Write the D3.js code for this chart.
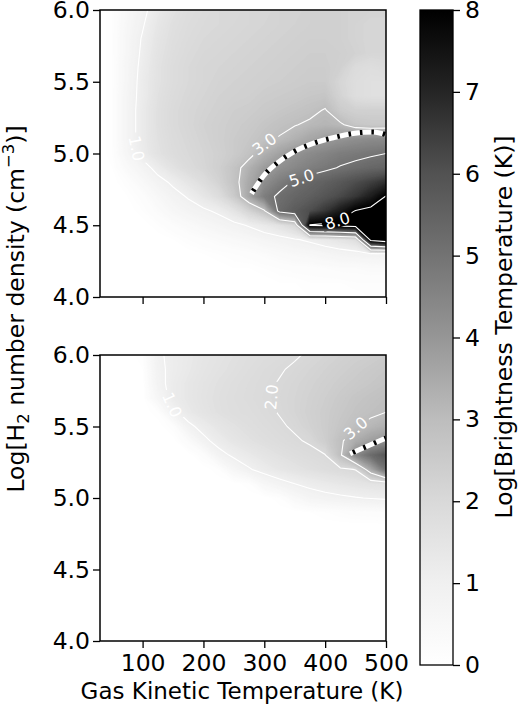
<!DOCTYPE html>
<html>
<head>
<meta charset="utf-8">
<script src="https://cdn.jsdelivr.net/npm/d3@7"></script>
<style>
  body { margin: 0; background: #fff; }
  svg text { font-family: "DejaVu Sans", sans-serif; }
</style>
</head>
<body>
<svg id="chart" width="520" height="713"></svg>
<script>
// grid of the model: columns are gas temperatures, rows are log densities (top row = 6.0)
const temps = [30, 50, 75, 100, 125, 150, 175, 200, 225, 250, 275, 300, 325, 350, 375, 400, 425, 450, 475, 500];
const densities = [6.0, 5.9, 5.8, 5.7, 5.6, 5.5, 5.4, 5.3, 5.2, 5.1, 5.0, 4.9, 4.8, 4.7, 4.6, 4.5, 4.4, 4.3, 4.2, 4.1, 4.0];

// log brightness temperature, upper panel
const topValues = [
  [0, 0.1, 0.5, 0.85, 1.3, 1.6, 1.8, 1.9, 2.0, 2.0, 2.1, 2.1, 2.2, 2.2, 2.3, 2.3, 2.3, 2.2, 2.2, 2.2],
  [0, 0.1, 0.55, 0.95, 1.4, 1.7, 1.85, 1.95, 2.0, 2.05, 2.1, 2.15, 2.2, 2.25, 2.3, 2.3, 2.3, 2.2, 2.1, 2.1],
  [0, 0.1, 0.6, 1.05, 1.5, 1.75, 1.9, 2.0, 2.05, 2.1, 2.15, 2.2, 2.25, 2.3, 2.35, 2.35, 2.3, 2.2, 2.1, 2.1],
  [0, 0.1, 0.6, 1.1, 1.55, 1.8, 1.95, 2.05, 2.1, 2.15, 2.2, 2.25, 2.3, 2.35, 2.4, 2.4, 2.35, 2.25, 2.1, 2.1],
  [0, 0.1, 0.65, 1.15, 1.6, 1.85, 2.0, 2.1, 2.15, 2.2, 2.25, 2.3, 2.35, 2.4, 2.45, 2.45, 2.3, 1.9, 1.8, 1.9],
  [0, 0.1, 0.65, 1.2, 1.6, 1.85, 2.0, 2.1, 2.2, 2.25, 2.3, 2.35, 2.4, 2.45, 2.5, 2.5, 2.1, 1.8, 1.7, 1.7],
  [0, 0.1, 0.7, 1.2, 1.65, 1.9, 2.05, 2.15, 2.25, 2.3, 2.35, 2.45, 2.5, 2.55, 2.65, 2.7, 2.2, 1.8, 1.7, 1.7],
  [0, 0.1, 0.7, 1.25, 1.7, 1.95, 2.1, 2.2, 2.3, 2.4, 2.45, 2.55, 2.65, 2.75, 2.85, 3.05, 2.5, 2.3, 2.3, 2.3],
  [0, 0.1, 0.7, 1.25, 1.7, 1.95, 2.1, 2.25, 2.35, 2.45, 2.55, 2.7, 2.85, 2.97, 3.1, 3.2, 3.1, 2.7, 2.6, 2.6],
  [0, 0.1, 0.7, 1.25, 1.65, 1.9, 2.05, 2.2, 2.35, 2.5, 2.65, 2.85, 3.05, 3.3, 3.6, 3.85, 4.05, 4.2, 4.3, 4.35],
  [0, 0.1, 0.65, 1.2, 1.6, 1.85, 2.0, 2.15, 2.3, 2.5, 2.8, 3.3, 3.7, 4.05, 4.3, 4.5, 4.7, 4.8, 4.9, 5.0],
  [0, 0.05, 0.4, 0.75, 1.2, 1.6, 1.9, 2.1, 2.35, 2.75, 3.3, 3.85, 4.15, 4.4, 4.65, 4.85, 5.05, 5.2, 5.35, 5.45],
  [0, 0, 0.15, 0.45, 0.8, 1.1, 1.45, 1.8, 2.2, 2.75, 3.5, 4.2, 4.7, 5.1, 5.35, 5.55, 5.8, 6.1, 6.4, 6.8],
  [0, 0, 0.05, 0.2, 0.5, 0.8, 1.05, 1.4, 1.8, 2.5, 3.6, 4.7, 5.15, 5.4, 5.6, 5.9, 6.2, 6.6, 7.2, 8.05],
  [0, 0, 0, 0.1, 0.3, 0.55, 0.75, 0.9, 1.1, 1.5, 2.2, 2.9, 5.3, 5.7, 6.1, 6.6, 7.3, 8.05, 8.3, 8.5],
  [0, 0, 0, 0, 0.1, 0.25, 0.4, 0.55, 0.7, 0.85, 1.05, 1.3, 1.6, 2.1, 8.05, 8.2, 8.4, 8.6, 8.9, 9.2],
  [0, 0, 0, 0, 0, 0.05, 0.15, 0.25, 0.35, 0.45, 0.55, 0.7, 0.8, 0.95, 1.1, 1.3, 1.5, 1.8, 8.5, 9.2],
  [0, 0, 0, 0, 0, 0, 0, 0.05, 0.1, 0.15, 0.2, 0.3, 0.4, 0.5, 0.55, 0.65, 0.75, 0.8, 0.85, 0.9],
  [0, 0, 0, 0, 0, 0, 0, 0, 0, 0.05, 0.05, 0.1, 0.15, 0.2, 0.2, 0.25, 0.3, 0.3, 0.35, 0.35],
  [0, 0, 0, 0, 0, 0, 0, 0, 0, 0, 0, 0, 0.05, 0.05, 0.1, 0.1, 0.1, 0.15, 0.15, 0.15],
  [0, 0, 0, 0, 0, 0, 0, 0, 0, 0, 0, 0, 0, 0, 0.05, 0.05, 0.05, 0.05, 0.1, 0.1]
];

// log brightness temperature, lower panel
const bottomValues = [
  [0, 0, 0, 0.1, 0.9, 1.15, 1.3, 1.45, 1.55, 1.65, 1.75, 1.82, 1.88, 1.96, 2.05, 2.15, 2.25, 2.35, 2.4, 2.5],
  [0, 0, 0, 0.05, 0.85, 1.15, 1.32, 1.48, 1.6, 1.7, 1.8, 1.9, 1.97, 2.05, 2.15, 2.25, 2.35, 2.45, 2.55, 2.65],
  [0, 0, 0, 0, 0.8, 1.2, 1.4, 1.55, 1.67, 1.77, 1.86, 1.94, 2.02, 2.12, 2.22, 2.33, 2.45, 2.55, 2.65, 2.75],
  [0, 0, 0, 0, 0.6, 1.2, 1.4, 1.58, 1.7, 1.8, 1.88, 1.96, 2.05, 2.15, 2.27, 2.4, 2.55, 2.7, 2.8, 2.9],
  [0, 0, 0, 0, 0.1, 0.85, 1.3, 1.52, 1.68, 1.78, 1.83, 1.92, 2.02, 2.15, 2.3, 2.45, 2.62, 2.78, 2.9, 3.0],
  [0, 0, 0, 0, 0, 0.15, 0.85, 1.2, 1.45, 1.62, 1.75, 1.85, 1.95, 2.05, 2.25, 2.45, 2.7, 2.95, 3.15, 3.35],
  [0, 0, 0, 0, 0, 0, 0.3, 0.85, 1.2, 1.45, 1.62, 1.75, 1.85, 1.95, 2.05, 2.4, 2.9, 3.4, 3.8, 4.1],
  [0, 0, 0, 0, 0, 0, 0, 0.2, 0.8, 1.1, 1.3, 1.5, 1.65, 1.78, 1.88, 1.98, 2.9, 4.3, 5.2, 5.8],
  [0, 0, 0, 0, 0, 0, 0, 0, 0.1, 0.6, 0.95, 1.2, 1.4, 1.55, 1.68, 1.8, 1.9, 2.02, 3.5, 5.0],
  [0, 0, 0, 0, 0, 0, 0, 0, 0, 0, 0.1, 0.55, 0.8, 1.0, 1.15, 1.27, 1.38, 1.48, 1.55, 1.6],
  [0, 0, 0, 0, 0, 0, 0, 0, 0, 0, 0, 0, 0.1, 0.45, 0.7, 0.82, 0.9, 0.97, 1.03, 1.08],
  [0, 0, 0, 0, 0, 0, 0, 0, 0, 0, 0, 0, 0, 0, 0.05, 0.1, 0.15, 0.2, 0.22, 0.25],
  [0, 0, 0, 0, 0, 0, 0, 0, 0, 0, 0, 0, 0, 0, 0, 0, 0, 0, 0, 0],
  [0, 0, 0, 0, 0, 0, 0, 0, 0, 0, 0, 0, 0, 0, 0, 0, 0, 0, 0, 0],
  [0, 0, 0, 0, 0, 0, 0, 0, 0, 0, 0, 0, 0, 0, 0, 0, 0, 0, 0, 0],
  [0, 0, 0, 0, 0, 0, 0, 0, 0, 0, 0, 0, 0, 0, 0, 0, 0, 0, 0, 0],
  [0, 0, 0, 0, 0, 0, 0, 0, 0, 0, 0, 0, 0, 0, 0, 0, 0, 0, 0, 0],
  [0, 0, 0, 0, 0, 0, 0, 0, 0, 0, 0, 0, 0, 0, 0, 0, 0, 0, 0, 0],
  [0, 0, 0, 0, 0, 0, 0, 0, 0, 0, 0, 0, 0, 0, 0, 0, 0, 0, 0, 0],
  [0, 0, 0, 0, 0, 0, 0, 0, 0, 0, 0, 0, 0, 0, 0, 0, 0, 0, 0, 0],
  [0, 0, 0, 0, 0, 0, 0, 0, 0, 0, 0, 0, 0, 0, 0, 0, 0, 0, 0, 0]
];

const topLevels = [1, 3, 5, 8];
const bottomLevels = [1, 2, 3];

// observed brightness, drawn as the dashed curve (temperature, log density)
const obsTopT = [279, 298, 320, 348, 380, 413, 446, 479, 500];
const obsTopN = [4.72, 4.84, 4.93, 5.01, 5.07, 5.11, 5.14, 5.15, 5.13];
const obsBottomT = [441, 468, 500];
const obsBottomN = [5.31, 5.36, 5.42];

// where clabel put the numbers (temperature, log density)
const topLabels = [
  { level: 1, t: 101, n: 5.04 },
  { level: 3, t: 298, n: 5.08 },
  { level: 5, t: 362, n: 4.82 },
  { level: 8, t: 416, n: 4.61 }
];
const bottomLabels = [
  { level: 1, t: 148, n: 5.65 },
  { level: 2, t: 309, n: 5.71 },
  { level: 3, t: 449, n: 5.5 }
];

const xTicks = [100, 200, 300, 400, 500];
const yTicks = [4.0, 4.5, 5.0, 5.5, 6.0];
const cbarTicks = [0, 1, 2, 3, 4, 5, 6, 7, 8];

const svg = d3.select('#chart');
const defs = svg.append('defs');
const tickFont = 23.5;
const labelFont = 23.5;

const x = d3.scaleLinear().domain([30, 500]).range([100, 386]);
const greys = d3.scaleLinear().domain(d3.range(9)).range(d3.schemeGreys[9]).clamp(true);
const bandStep = 0.05;
const bandLevels = d3.range(bandStep, 8 + 1e-6, bandStep);
const fmt = d3.format('.1f');

const panels = [
  { id: 'top', values: topValues, levels: topLevels, labels: topLabels,
    obsT: obsTopT, obsN: obsTopN, top: 10, bottom: 297, showX: false },
  { id: 'bottom', values: bottomValues, levels: bottomLevels, labels: bottomLabels,
    obsT: obsBottomT, obsN: obsBottomN, top: 355, bottom: 641, showX: true }
];

function nearestOnRings(rings, px, py) {
  let best = null;
  rings.forEach((ring) => {
    for (let i = 0; i < ring.length - 1; i++) {
      const [ax, ay] = ring[i];
      const [bx, by] = ring[i + 1];
      const dx = bx - ax, dy = by - ay;
      const len2 = dx * dx + dy * dy || 1;
      const u = Math.max(0, Math.min(1, ((px - ax) * dx + (py - ay) * dy) / len2));
      const qx = ax + u * dx, qy = ay + u * dy;
      const d = (qx - px) ** 2 + (qy - py) ** 2;
      if (!best || d < best.d) {
        const prev = ring[Math.max(0, i - 1)];
        const next = ring[Math.min(ring.length - 1, i + 2)];
        best = { d, x: qx, y: qy, angle: Math.atan2(next[1] - prev[1], next[0] - prev[0]) * 180 / Math.PI };
      }
    }
  });
  let a = best.angle;
  if (a > 90) a -= 180;
  if (a < -90) a += 180;
  best.angle = a;
  return best;
}

panels.forEach((p) => {
  const y = d3.scaleLinear().domain([4, 6]).range([p.bottom, p.top]);
  const flat = p.values.flat();

  // grid index -> pixel, through the data scales
  const gx = d3.scaleLinear().domain(temps.map((d, i) => i + 0.5)).range(temps.map((d) => x(d)));
  const gy = d3.scaleLinear().domain(densities.map((d, i) => i + 0.5)).range(densities.map((d) => y(d)));
  const path = d3.geoPath(d3.geoTransform({
    point(a, b) { this.stream.point(gx(a), gy(b)); }
  }));
  const contours = d3.contours().size([temps.length, densities.length]);

  defs.append('clipPath').attr('id', `clip-${p.id}`)
    .append('rect')
    .attr('x', x.range()[0]).attr('y', p.top)
    .attr('width', x.range()[1] - x.range()[0]).attr('height', p.bottom - p.top);

  const g = svg.append('g').attr('clip-path', `url(#clip-${p.id})`);

  // filled bands
  g.append('g')
    .selectAll('path')
    .data(bandLevels.map((t) => contours.contour(flat, t)))
    .join('path')
    .attr('d', path)
    .attr('fill', (d) => greys(d.value + bandStep / 2));

  // contour lines, with gaps for the labels
  const mask = defs.append('mask').attr('id', `mask-${p.id}`)
    .attr('maskUnits', 'userSpaceOnUse')
    .attr('x', 0).attr('y', 0).attr('width', 520).attr('height', 713);
  mask.append('rect').attr('width', 520).attr('height', 713).attr('fill', '#fff');

  g.append('g')
    .attr('mask', `url(#mask-${p.id})`)
    .selectAll('path')
    .data(p.levels.map((l) => contours.contour(flat, l)))
    .join('path')
    .attr('d', path)
    .attr('fill', 'none')
    .attr('stroke', '#fff')
    .attr('stroke-width', 1.1);

  // observed value: thick white line with black dashes
  const obsLine = d3.line()
    .x((d, i) => x(p.obsT[i]))
    .y((d) => y(d))
    .curve(d3.curveMonotoneX);
  g.append('path').attr('d', obsLine(p.obsN))
    .attr('fill', 'none').attr('stroke', '#fff').attr('stroke-width', 5);
  g.append('path').attr('d', obsLine(p.obsN))
    .attr('fill', 'none').attr('stroke', '#000').attr('stroke-width', 5)
    .attr('stroke-dasharray', '2.5,9').attr('stroke-dashoffset', -3);

  // labels
  p.labels.forEach((lb) => {
    const geom = contours.contour(flat, lb.level);
    const rings = geom.coordinates.flatMap((poly) =>
      poly.map((ring) => ring.map(([a, b]) => [gx(a), gy(b)])));
    const pos = nearestOnRings(rings, x(lb.t), y(lb.n));
    const tr = `translate(${pos.x},${pos.y}) rotate(${pos.angle})`;
    const txt = g.append('text')
      .attr('transform', tr)
      .attr('text-anchor', 'middle')
      .attr('dy', '0.36em')
      .attr('fill', '#fff')
      .attr('font-size', 16)
      .text(fmt(lb.level));
    const w = txt.node().getComputedTextLength();
    mask.append('rect')
      .attr('transform', tr)
      .attr('x', -w / 2 - 3).attr('y', -7)
      .attr('width', w + 6).attr('height', 14)
      .attr('fill', '#000');
  });

  // axes
  const yAxis = svg.append('g')
    .attr('transform', `translate(${x.range()[0]},0)`)
    .call(d3.axisLeft(y).tickValues(yTicks).tickFormat(fmt).tickSize(7).tickPadding(3));
  const xAxis = svg.append('g')
    .attr('transform', `translate(0,${p.bottom})`)
    .call(d3.axisBottom(x).tickValues(xTicks).tickSize(7).tickPadding(6)
      .tickFormat(p.showX ? d3.format('d') : () => ''));
  [yAxis, xAxis].forEach((a) => {
    a.attr('font-size', tickFont);
    a.select('.domain').remove();
    a.selectAll('.tick line').attr('stroke-width', 1.3);
  });

  svg.append('rect')
    .attr('x', x.range()[0]).attr('y', p.top)
    .attr('width', x.range()[1] - x.range()[0]).attr('height', p.bottom - p.top)
    .attr('fill', 'none').attr('stroke', '#000').attr('stroke-width', 1.5);
});

// colorbar
const c = d3.scaleLinear().domain([0, 8]).range([665, 10]);
const grad = defs.append('linearGradient').attr('id', 'cbar')
  .attr('x1', 0).attr('y1', 1).attr('x2', 0).attr('y2', 0);
grad.selectAll('stop')
  .data(cbarTicks)
  .join('stop')
  .attr('offset', (d) => d / 8)
  .attr('stop-color', (d) => greys(d));
svg.append('rect')
  .attr('x', 420).attr('y', c(8))
  .attr('width', 33).attr('height', c(0) - c(8))
  .attr('fill', 'url(#cbar)')
  .attr('stroke', '#000').attr('stroke-width', 1.3);
const cAxis = svg.append('g')
  .attr('transform', 'translate(453,0)')
  .call(d3.axisRight(c).tickValues(cbarTicks).tickSize(7).tickPadding(5));
cAxis.attr('font-size', tickFont);
cAxis.select('.domain').remove();
cAxis.selectAll('.tick line').attr('stroke-width', 1.3);

// axis titles
svg.append('text')
  .attr('x', 242).attr('y', 699)
  .attr('text-anchor', 'middle')
  .attr('font-size', 23)
  .text('Gas Kinetic Temperature (K)');

const yl = svg.append('text')
  .attr('transform', 'translate(24,309) rotate(-90)')
  .attr('text-anchor', 'middle')
  .attr('font-size', labelFont);
yl.append('tspan').text('Log[H');
yl.append('tspan').attr('font-size', labelFont * 0.7).attr('dy', 5).text('2');
yl.append('tspan').attr('dy', -5).text(' number density (cm');
yl.append('tspan').attr('font-size', labelFont * 0.7).attr('dy', -10).text('\u22123');
yl.append('tspan').attr('dy', 10).text(')]');

svg.append('text')
  .attr('transform', 'translate(512,327) rotate(-90)')
  .attr('text-anchor', 'middle')
  .attr('font-size', labelFont)
  .text('Log[Brightness Temperature (K)]');
</script>
</body>
</html>
